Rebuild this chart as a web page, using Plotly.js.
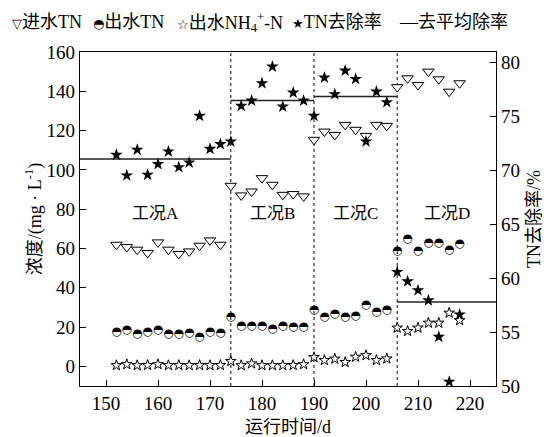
<!DOCTYPE html>
<html><head><meta charset="utf-8">
<script src="https://cdn.plot.ly/plotly-3.0.1.min.js"></script>
<style>html,body{margin:0;padding:0;background:#fff}</style>
</head><body><div id="chart" style="width:550px;height:437px"></div>
<script>
const days = [152,154,156,158,160,162,164,166,168,170,172,
              174,176,178,180,182,184,186,188,
              190,192,194,196,198,200,202,204,
              206,208,210,212,214,216,218];
const influentTN = [61.9,60.7,59.4,57.7,63.1,59.4,57.2,58.5,61.4,64.1,61.9,
                    91.9,87.0,89.0,95.8,92.4,87.3,87.7,86.5,
                    115.3,119.5,117.8,122.9,120.4,117.3,122.9,122.4,
                    142.1,146.6,143.2,150.0,146.1,139.8,144.1];
const effluentTN = [17.3,18.4,16.5,17.3,18.4,16.5,16.7,16.8,15.0,17.7,16.8,
                    25.0,20.4,20.7,20.7,19.1,20.7,20.0,20.0,
                    28.5,25.2,26.8,25.2,25.5,31.4,27.7,28.9,
                    58.5,65.0,58.5,62.8,63.0,59.0,62.3];
const effluentNH4 = [0.5,1.0,0.5,0.6,1.0,0.5,0.6,0.5,0.6,0.5,0.6,
                     2.6,0.5,1.4,0.5,0.5,0.5,0.6,1.0,
                     4.6,3.1,3.8,2.1,4.8,5.6,3.1,3.9,
                     19.6,17.9,19.6,22.1,22.1,27.2,23.4];
const removalRate = [71.45,69.54,71.92,69.60,70.59,71.76,70.31,70.74,75.07,72.01,72.45,
                     72.69,76.00,76.49,78.10,79.64,75.93,77.23,76.49,
                     75.07,78.62,77.08,79.27,78.50,72.69,77.32,76.34,
                     60.58,59.71,58.88,57.95,54.56,50.39,56.63];
const phaseBounds = [174,190,206];
const phaseStart = [145,174,190,206];
const phaseEnd = [174,190,206,225];
const meanRemoval = [71.06,76.49,76.86,57.80];
const phaseLabels = ['工况A','工况B','工况C','工况D'];
const legendLabels = ['进水TN','出水TN','出水NH<sub>4</sub><sup>+</sup>-N','TN去除率','去平均除率'];
const legendGlyphs = ['▽','◓','☆','★','—'];
const xTitle = '运行时间/d';
const yTitle = '浓度/(mg · L<sup>-1</sup>)';
const y2Title = 'TN去除率/%';

const FONT = 'Liberation Serif, Noto Sans CJK SC, serif';

const meanX = [], meanY = [];
for (let i = 0; i < meanRemoval.length; i++) {
  meanX.push(phaseStart[i], phaseEnd[i], null);
  meanY.push(meanRemoval[i], meanRemoval[i], null);
}

const traces = [
  {name: '进水TN', x: days, y: influentTN, type: 'scatter', mode: 'markers', yaxis: 'y', cliponaxis: false,
   marker: {symbol: 'triangle-down', size: 10, color: '#fff', line: {color: '#000', width: 1}}},
  {name: '出水TN', x: days, y: effluentTN, type: 'scatter', mode: 'text', yaxis: 'y', cliponaxis: false,
   text: days.map(() => '◓'), textposition: 'middle center',
   textfont: {family: 'DejaVu Sans', size: 12, color: '#000'}},
  {name: '出水NH4+-N', x: days, y: effluentNH4, type: 'scatter', mode: 'markers', yaxis: 'y', cliponaxis: false,
   marker: {symbol: 'star', size: 8, color: '#fff', line: {color: '#000', width: 1}}},
  {name: '去平均除率', x: meanX, y: meanY, type: 'scatter', mode: 'lines', yaxis: 'y2',
   line: {color: '#222', width: 1.5}},
  {name: 'TN去除率', x: days, y: removalRate, type: 'scatter', mode: 'markers', yaxis: 'y2', cliponaxis: false,
   marker: {symbol: 'star', size: 9.5, color: '#000', line: {width: 0}}}
];

const shapes = phaseBounds.map(b => ({
  type: 'line', xref: 'x', yref: 'paper', x0: b, x1: b, y0: 0, y1: 1, layer: 'below',
  line: {color: '#000', width: 1, dash: 'dot'}
}));

const annotations = phaseLabels.map((t, i) => ({
  text: t, xref: 'x', yref: 'y', x: (phaseStart[i] + phaseEnd[i]) / 2, y: 78,
  showarrow: false, font: {family: FONT, size: 17, color: '#000'}
}));

const legendPx = [10, 91, 175, 290, 397];
legendLabels.forEach((t, i) => {
  const g = legendGlyphs[i];
  const glyph = i === 4 ? g : '<span style="font-family:DejaVu Sans;font-size:13px">' + g + '</span>';
  annotations.push({
    text: glyph + t, xref: 'paper', yref: 'paper',
    x: (legendPx[i] - 80) / 416, y: (386.5 - 22) / 334.5,
    xanchor: 'left', yanchor: 'middle', showarrow: false,
    font: {family: FONT, size: 18, color: '#000'}
  });
});

const axisCommon = {
  ticks: 'inside', ticklen: 6, tickwidth: 1, tickcolor: '#000',
  showline: true, linecolor: '#000', linewidth: 1.3,
  showgrid: false, zeroline: false,
  tickfont: {family: FONT, size: 19, color: '#000'}
};

const layout = {
  width: 550, height: 437,
  margin: {l: 80, r: 54, t: 52, b: 50.5},
  paper_bgcolor: '#fff', plot_bgcolor: '#fff',
  showlegend: false,
  xaxis: Object.assign({}, axisCommon, {
    range: [145, 225], tick0: 150, dtick: 10, mirror: true,
    title: {text: xTitle, font: {family: FONT, size: 18, color: '#000'}, standoff: 8}
  }),
  yaxis: Object.assign({}, axisCommon, {
    range: [-10, 160], tick0: 0, dtick: 20,
    title: {text: yTitle, font: {family: FONT, size: 18, color: '#000'}, standoff: 0}
  }),
  yaxis2: Object.assign({}, axisCommon, {
    range: [50, 81], tick0: 50, dtick: 5, overlaying: 'y', side: 'right',
    title: {text: y2Title, font: {family: FONT, size: 18, color: '#000'}, standoff: 8}
  }),
  shapes: shapes,
  annotations: annotations
};

Plotly.newPlot('chart', traces, layout, {displayModeBar: false, staticPlot: true});
</script>
</body></html>
